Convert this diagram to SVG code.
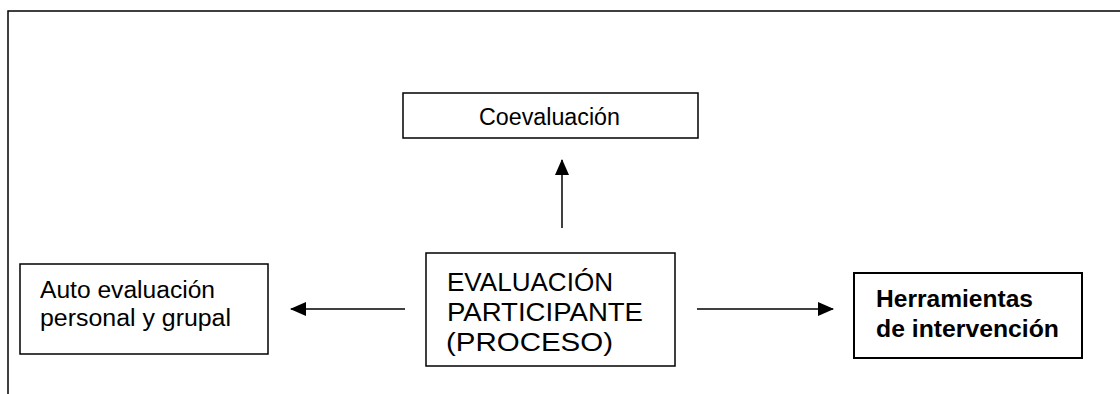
<svg xmlns="http://www.w3.org/2000/svg" width="1120" height="394" viewBox="0 0 1120 394">
<style>
.box{fill:#fff;stroke:#000;stroke-width:1.5}
.bold{stroke-width:2}
.t{font-family:"Liberation Sans",Arial,sans-serif;fill:#000}
.conn line{stroke:#000;stroke-width:1.5}
</style>
<defs>
<marker id="ah" viewBox="0 0 16 14" refX="15" refY="7" markerWidth="16" markerHeight="14" markerUnits="userSpaceOnUse" orient="auto">
<path d="M0,0 L16,7 L0,14 Z" fill="#000"/>
</marker>
</defs>
<rect width="1120" height="394" fill="#fff"/>
<path d="M1120,11 H8 V394" fill="none" stroke="#000" stroke-width="1.5"/>
<g id="coevaluacion">
<rect class="box" x="403" y="93" width="295" height="45"/>
<text class="t" x="479" y="125" font-size="23" textLength="141" lengthAdjust="spacingAndGlyphs">Coevaluación</text>
</g>
<g id="auto">
<rect class="box" x="20" y="264" width="248" height="90"/>
<text class="t" x="40" y="298" font-size="23.5" textLength="175" lengthAdjust="spacingAndGlyphs">Auto evaluación</text>
<text class="t" x="40" y="326" font-size="23.5" textLength="191" lengthAdjust="spacingAndGlyphs">personal y grupal</text>
</g>
<g id="evaluacion">
<rect class="box" x="426" y="253" width="249" height="113"/>
<text class="t" x="447" y="291" font-size="26.5" textLength="166" lengthAdjust="spacingAndGlyphs">EVALUACIÓN</text>
<text class="t" x="447" y="321" font-size="26.5" textLength="196" lengthAdjust="spacingAndGlyphs">PARTICIPANTE</text>
<text class="t" x="446" y="351" font-size="26.5" textLength="167" lengthAdjust="spacingAndGlyphs">(PROCESO)</text>
</g>
<g id="herramientas">
<rect class="box bold" x="854" y="273" width="228" height="85"/>
<text class="t" x="876" y="307" font-size="23" font-weight="bold" textLength="157" lengthAdjust="spacingAndGlyphs">Herramientas</text>
<text class="t" x="876" y="337" font-size="23" font-weight="bold" textLength="183" lengthAdjust="spacingAndGlyphs">de intervención</text>
</g>
<g id="connectors" class="conn">
<line x1="562" y1="228" x2="562" y2="160" marker-end="url(#ah)"/>
<line x1="405" y1="309" x2="291" y2="309" marker-end="url(#ah)"/>
<line x1="697" y1="309" x2="833" y2="309" marker-end="url(#ah)"/>
</g>
</svg>
